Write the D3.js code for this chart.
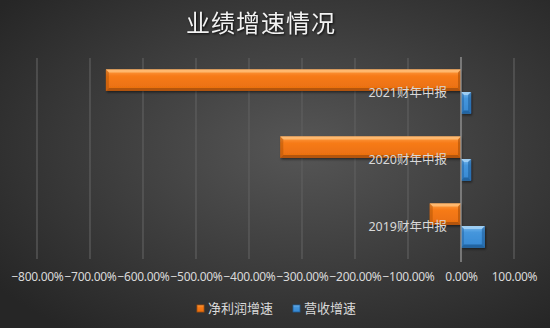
<!DOCTYPE html>
<html>
<head>
	<meta charset="utf-8" />
	<title>业绩增速情况</title>
	<script src="https://d3js.org/d3.v7.min.js"></script>
	<style>
		html, body { margin: 0; padding: 0; background: #3a3a3a; }
		svg { display: block; }
		text { font-family: 'Noto Sans', 'Noto Sans CJK SC', sans-serif; }
	</style>
</head>
<body>
	<script>
		// chart data
		var categories = ["2019财年中报", "2020财年中报", "2021财年中报"];
		var seriesNames = ["净利润增速", "营收增速"];
		var profitGrowth = [-59, -341, -670];   // 净利润增速, %
		var revenueGrowth = [45, 19, 19];       // 营收增速, %
		var xTicks = [-800, -700, -600, -500, -400, -300, -200, -100, 0, 100];

		var width = 550, height = 328;
		var margin = { top: 58, right: 36, bottom: 69, left: 37 };

		var svg = d3.select("body").append("svg")
			.attr("width", width)
			.attr("height", height);

		var defs = svg.append("defs");

		// dark backdrop, lighter in the middle
		var bg = defs.append("radialGradient").attr("id", "bg")
			.attr("cx", "55%").attr("cy", "45%").attr("r", "70%");
		bg.append("stop").attr("offset", "0%").attr("stop-color", "#565656");
		bg.append("stop").attr("offset", "100%").attr("stop-color", "#262626");

		// bevelled bar fills
		var palette = {
			"净利润增速": { top: "#ffa24a", mid: "#f77b17", low: "#e86e0f", dark: "#a9500c", light: "#ffc07a" },
			"营收增速": { top: "#7dbcf0", mid: "#4596dc", low: "#3688d2", dark: "#1f5e99", light: "#a9d4f6" }
		};
		seriesNames.forEach(function(s, i) {
			var g = defs.append("linearGradient").attr("id", "fill" + i)
				.attr("x1", 0).attr("y1", 0).attr("x2", 0).attr("y2", 1);
			g.append("stop").attr("offset", "0%").attr("stop-color", palette[s].top);
			g.append("stop").attr("offset", "30%").attr("stop-color", palette[s].mid);
			g.append("stop").attr("offset", "100%").attr("stop-color", palette[s].low);
		});

		var shadow = defs.append("filter").attr("id", "shadow")
			.attr("x", "-10%").attr("y", "-10%").attr("width", "130%").attr("height", "150%");
		shadow.append("feDropShadow").attr("dx", 1).attr("dy", 1.5)
			.attr("stdDeviation", 1).attr("flood-color", "#000").attr("flood-opacity", 0.5);

		svg.append("rect").attr("width", width).attr("height", height).attr("fill", "url(#bg)");

		// title
		svg.append("text")
			.attr("x", 261).attr("y", 32)
			.attr("text-anchor", "middle")
			.attr("fill", "#f2f2f2")
			.style("font-family", "'Noto Sans CJK SC', sans-serif")
			.style("font-size", "24px")
			.style("letter-spacing", "1px")
			.style("filter", "drop-shadow(1px 1px 1px rgba(0,0,0,0.8))")
			.text("业绩增速情况");

		var x = d3.scaleLinear()
			.domain([-800, 100])
			.range([margin.left, width - margin.right]);

		var y = d3.scaleBand()
			.domain(categories.slice().reverse())
			.range([margin.top, height - margin.bottom])
			.paddingInner(0.34).paddingOuter(0.17);

		var ySub = d3.scaleBand()
			.domain(seriesNames)
			.range([0, y.bandwidth()])
			.paddingInner(0.05);

		// vertical gridlines
		svg.append("g").selectAll("line")
			.data(xTicks.filter(function(t) { return t !== 0; }))
			.enter().append("line")
			.attr("x1", function(d) { return x(d); })
			.attr("x2", function(d) { return x(d); })
			.attr("y1", margin.top)
			.attr("y2", height - margin.bottom)
			.attr("stroke", "#5f5f5f")
			.attr("stroke-width", 1.2);

		// x axis labels
		var xAxis = d3.axisBottom(x)
			.tickValues(xTicks)
			.tickSize(0)
			.tickPadding(0)
			.tickFormat(function(d) { return d3.format(".2f")(d) + "%"; });
		var xg = svg.append("g")
			.attr("transform", "translate(0," + (height - margin.bottom + 13) + ")")
			.call(xAxis);
		xg.select(".domain").remove();
		xg.selectAll("text")
			.attr("fill", "#d9d9d9")
			.style("font-size", "12px")
			.style("font-family", "'Noto Sans', sans-serif")
			.style("letter-spacing", "-0.3px");

		// bars
		var rows = categories.map(function(c, i) {
			return { cat: c, values: [profitGrowth[i], revenueGrowth[i]] };
		});

		function bevel(g, x0, y0, w, h, col) {
			var b = Math.min(3, w / 2, h / 2);
			g.append("polygon")
				.attr("points", [[x0, y0], [x0 + w, y0], [x0 + w - b, y0 + b], [x0 + b, y0 + b]].join(" "))
				.attr("fill", col.light).attr("opacity", 0.8);
			g.append("polygon")
				.attr("points", [[x0, y0 + h], [x0 + w, y0 + h], [x0 + w - b, y0 + h - b], [x0 + b, y0 + h - b]].join(" "))
				.attr("fill", col.dark).attr("opacity", 0.85);
			g.append("polygon")
				.attr("points", [[x0, y0], [x0 + b, y0 + b], [x0 + b, y0 + h - b], [x0, y0 + h]].join(" "))
				.attr("fill", col.dark).attr("opacity", 0.45);
			g.append("polygon")
				.attr("points", [[x0 + w, y0], [x0 + w - b, y0 + b], [x0 + w - b, y0 + h - b], [x0 + w, y0 + h]].join(" "))
				.attr("fill", col.dark).attr("opacity", 0.6);
		}

		var groups = svg.append("g").selectAll("g")
			.data(rows)
			.enter().append("g")
			.attr("transform", function(d) { return "translate(0," + y(d.cat) + ")"; });

		groups.each(function(d) {
			var gRow = d3.select(this);
			d.values.forEach(function(v, i) {
				var s = seriesNames[i];
				var x0 = x(Math.min(0, v)), w = Math.abs(x(v) - x(0));
				var y0 = ySub(s), h = ySub.bandwidth();
				var bar = gRow.append("g").attr("filter", "url(#shadow)");
				bar.append("rect")
					.attr("x", x0).attr("y", y0)
					.attr("width", w).attr("height", h)
					.attr("fill", "url(#fill" + i + ")");
				bevel(bar, x0, y0, w, h, palette[s]);
			});
		});

		// zero axis line
		svg.append("line")
			.attr("x1", x(0)).attr("x2", x(0))
			.attr("y1", margin.top - 1).attr("y2", height - margin.bottom + 3)
			.attr("stroke", "#9a9a9a")
			.attr("stroke-width", 1.3);

		// category labels sit next to the zero axis
		svg.append("g").selectAll("text")
			.data(categories)
			.enter().append("text")
			.attr("x", x(0) - 14)
			.attr("y", function(d) { return y(d) + y.bandwidth() / 2 + 5; })
			.attr("text-anchor", "end")
			.attr("fill", "#d9d9d9")
			.style("font-size", "12.5px")
			.style("font-family", "'Noto Sans', 'Noto Sans CJK SC', sans-serif")
			.text(function(d) { return d; });

		// legend
		var legendX = [197, 293];
		var legend = svg.append("g").selectAll("g")
			.data(seriesNames)
			.enter().append("g")
			.attr("transform", function(d, i) { return "translate(" + legendX[i] + ",305)"; });
		legend.append("rect")
			.attr("width", 7).attr("height", 7)
			.attr("fill", function(d, i) { return "url(#fill" + i + ")"; })
			.attr("stroke", function(d) { return palette[d].dark; })
			.attr("stroke-width", 0.8);
		legend.append("text")
			.attr("x", 11).attr("y", 8)
			.attr("fill", "#d9d9d9")
			.style("font-size", "13px")
			.style("font-family", "'Noto Sans CJK SC', sans-serif")
			.text(function(d) { return d; });
	</script>
</body>
</html>
